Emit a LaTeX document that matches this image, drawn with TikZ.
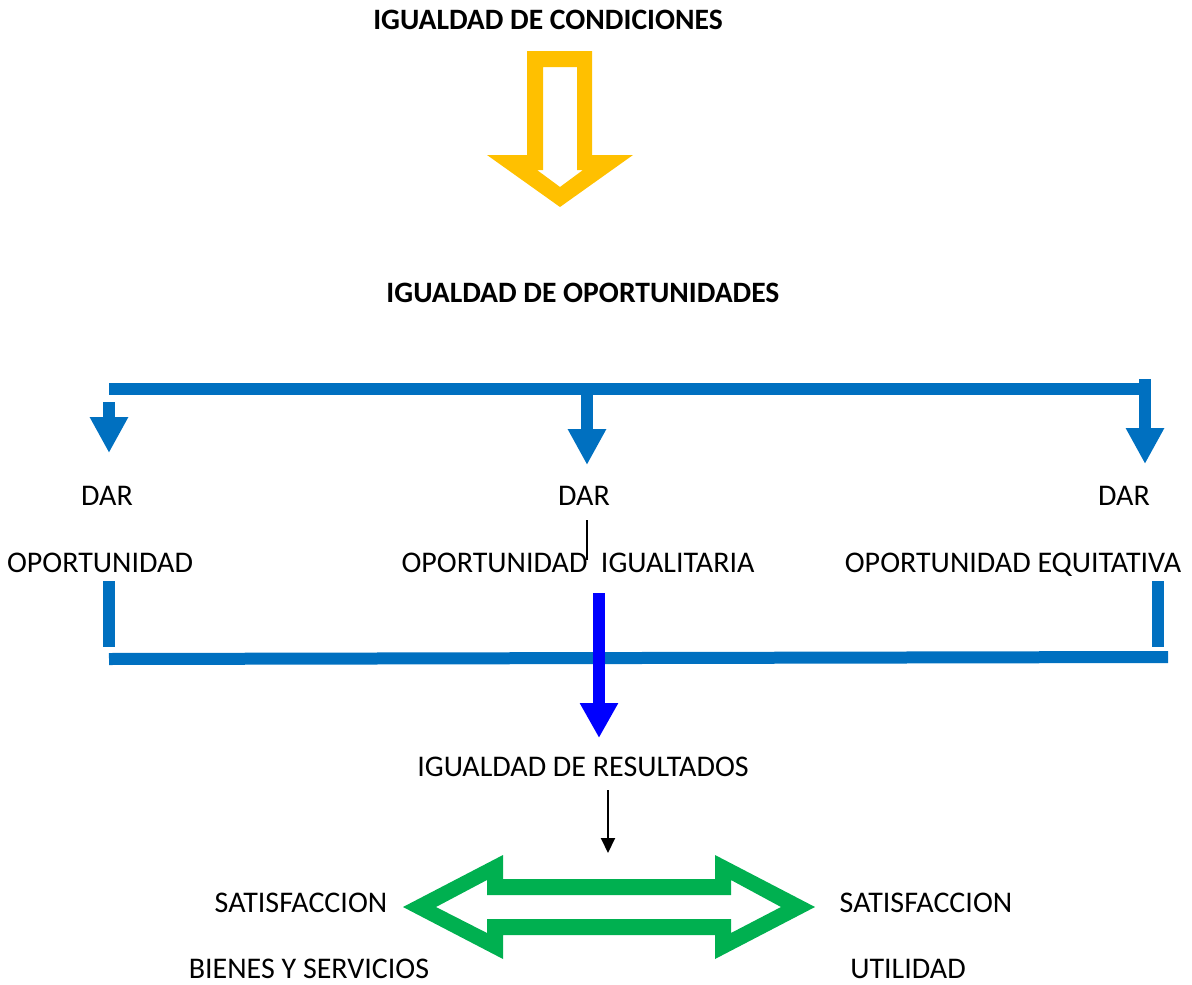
\documentclass[tikz,border=0pt]{standalone}
\usepackage{fontspec}
\setmainfont{Carlito}
\usetikzlibrary{arrows.meta}
\definecolor{ayellow}{HTML}{FFC000}
\definecolor{ablue}{HTML}{0070C0}
\definecolor{pblue}{HTML}{0000FF}
\definecolor{agreen}{HTML}{00B050}
\tikzset{
  txt/.style={anchor=base, inner sep=0pt, font=\fontsize{30}{35}\selectfont},
  btxt/.style={txt, font=\fontsize{29.6}{35}\selectfont\bfseries},
  bbar/.style={draw=ablue, line width=12pt},
  barrow/.style={draw=ablue, line width=12pt, -{Triangle[length=36pt,width=36pt]}},
}
\begin{document}
\begin{tikzpicture}[x=1pt,y=-1pt]
\useasboundingbox (0,0) rectangle (1192,985);
% titles
\node[btxt] (t1) at (548,29) {IGUALDAD DE CONDICIONES};
\node[btxt] (t2) at (583,302) {IGUALDAD DE OPORTUNIDADES};
% yellow hollow arrow
\fill[ayellow, even odd rule]
  (527,51) -- (592,51) -- (592,155) -- (633,155) -- (560,207) -- (487,155) -- (527,155) -- cycle
  (543,67) -- (577,67) -- (577,170) -- (583,170) -- (560,187) -- (537,170) -- (543,170) -- cycle;
% top distribution line and arrows
\coordinate (tl) at (109,389);
\coordinate (tr) at (1145,389);
\draw[bbar] (tl) -- (tr);
\draw[barrow] (109,402) -- (109,453);
\draw[barrow] (587,389) -- (587,465);
\draw[barrow] (1145,379) -- (1145,464);
% texts
\node[txt] (d1) at (107,505) {DAR};
\node[txt] (d2) at (584,505) {DAR};
\node[txt] (d3) at (1124,505) {DAR};
\node[txt] (o1) at (100,572) {OPORTUNIDAD};
\node[txt] (o2) at (578,572) {OPORTUNIDAD\ \ IGUALITARIA};
\node[txt] (o3) at (1013,572) {OPORTUNIDAD EQUITATIVA};
\draw[line width=1.5pt] (587,520) -- (587,560);
% bottom collector
\draw[bbar] (109,581) -- (109,647);
\draw[bbar] (1158,581) -- (1158,647);
\draw[bbar] (109,659) -- (1168,657);
\draw[draw=pblue, line width=12pt, -{Triangle[length=35pt,width=36pt]}] (599,593) -- (599,738);
\node[txt] (res) at (583,776) {IGUALDAD DE RESULTADOS};
\draw[line width=2pt, -{Triangle[length=15pt,width=14pt]}] (608,790) -- (608,853);
% green double arrow
\fill[agreen, even odd rule]
  (403,907) -- (503,855) -- (503,879) -- (715,879) -- (715,855) -- (815,907) -- (715,959) -- (715,935) -- (503,935) -- (503,959) -- cycle
  (436,907) -- (487,880) -- (487,895) -- (731,895) -- (731,880) -- (781,907) -- (731,933) -- (731,919) -- (487,919) -- (487,933) -- cycle;
\node[txt] (s1) at (301,912) {SATISFACCION};
\node[txt] (s2) at (926,912) {SATISFACCION};
\node[txt] (b1) at (309,978) {BIENES Y SERVICIOS};
\node[txt] (u1) at (908,978) {UTILIDAD};
\end{tikzpicture}
\end{document}
